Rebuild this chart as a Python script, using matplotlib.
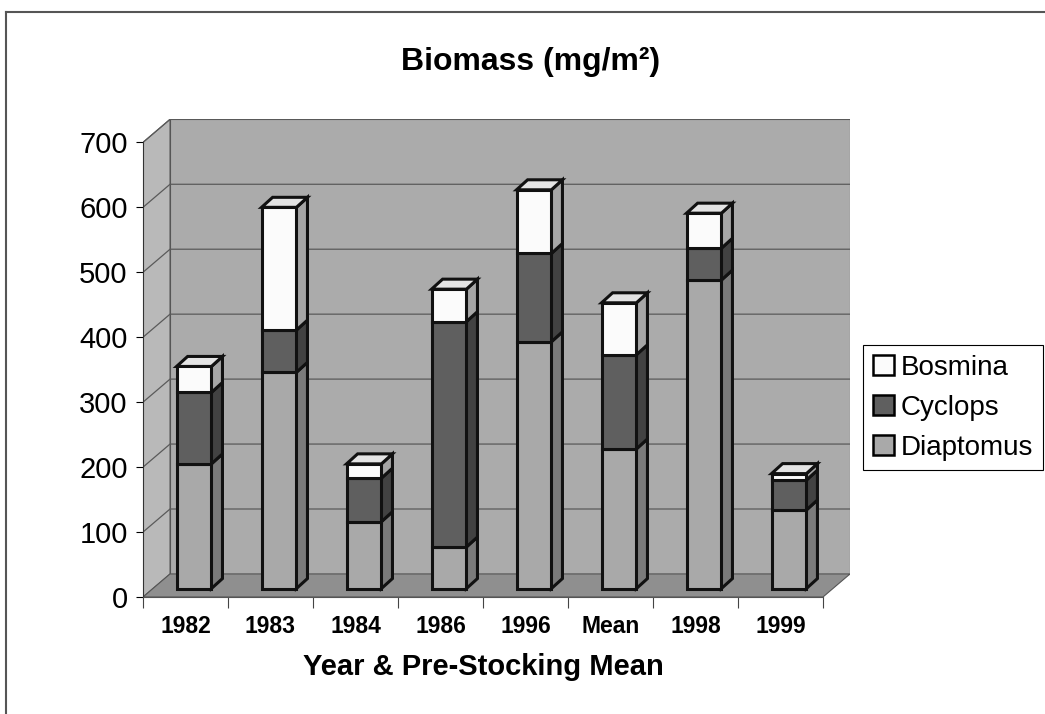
import matplotlib.pyplot as plt
from matplotlib.patches import Polygon, Patch
from matplotlib.lines import Line2D

plt.rcParams['font.family'] = ['Liberation Sans', 'DejaVu Sans']

# values (mg/m2)
years = ['1982', '1983', '1984', '1986', '1996', 'Mean', '1998', '1999']
diaptomus = [192, 333, 103, 64, 380, 215, 475, 121]
cyclops = [110, 65, 67, 347, 136, 145, 49, 46]
bosmina = [40, 189, 22, 50, 98, 80, 54, 10]
yticks = [0, 100, 200, 300, 400, 500, 600, 700]

# name, values, front / side / top colour
series = [('Diaptomus', diaptomus, '#a9a9a9', '#7b7b7b', '#c6c6c6'),
          ('Cyclops', cyclops, '#5f5f5f', '#424242', '#7c7c7c'),
          ('Bosmina', bosmina, '#fbfbfb', '#a6a6a6', '#e4e4e4')]

# fake 3d geometry, in data units
wall_dx, wall_dy = 0.318, 35.5     # depth of the floor
bar_dx, bar_dy = 0.10, 13          # front face of bars behind front edge
deep_dx, deep_dy = 0.13, 15.4      # depth of a bar
bar_w = 0.41
n = len(years)
ytop = 700

fig = plt.figure(figsize=(10.45, 7.14), dpi=100)
ax = fig.add_axes([143 / 1045, 117 / 714, 707 / 1045, 478 / 714])
ax.set_xlim(0, n + wall_dx)
ax.set_ylim(0, ytop + wall_dy + 0.5)

# walls and floor
ax.add_patch(Polygon([(wall_dx, wall_dy), (n + wall_dx, wall_dy), (n + wall_dx, ytop + wall_dy),
                      (wall_dx, ytop + wall_dy)], closed=True, fc='#ababab', ec='#555555', lw=0.8, zorder=0))
ax.add_patch(Polygon([(0, 0), (wall_dx, wall_dy), (wall_dx, ytop + wall_dy), (0, ytop)],
                     closed=True, fc='#b9b9b9', ec='#555555', lw=0.8, zorder=0))
ax.add_patch(Polygon([(0, 0), (n, 0), (n + wall_dx, wall_dy), (wall_dx, wall_dy)],
                     closed=True, fc='#8f8f8f', ec='#555555', lw=0.8, zorder=0.5))

for v in yticks[1:]:
    ax.plot([0, wall_dx, n + wall_dx], [v, v + wall_dy, v + wall_dy], color='#5a5a5a', lw=0.9, zorder=0.2)

# stacked bars
bottoms = [0] * n
for name, vals, fc, sc, tc in series:
    xs = [i + 0.5 + bar_dx for i in range(n)]
    ax.bar(xs, vals, width=bar_w, bottom=[b + bar_dy for b in bottoms],
           color=fc, edgecolor='#111111', linewidth=2.2, zorder=3)
    for i in range(n):
        y0 = bottoms[i] + bar_dy
        y1 = y0 + vals[i]
        xr = xs[i] + bar_w / 2
        ax.add_patch(Polygon([(xr, y0), (xr + deep_dx, y0 + deep_dy), (xr + deep_dx, y1 + deep_dy), (xr, y1)],
                             closed=True, fc=sc, ec='#111111', lw=2.2, zorder=2.9))
    bottoms = [b + v for b, v in zip(bottoms, vals)]

# top faces of the topmost segment
tc = series[-1][4]
for i in range(n):
    xl = i + 0.5 + bar_dx - bar_w / 2
    xr = xl + bar_w
    y1 = bottoms[i] + bar_dy
    ax.add_patch(Polygon([(xl, y1), (xl + deep_dx, y1 + deep_dy), (xr + deep_dx, y1 + deep_dy), (xr, y1)],
                         closed=True, fc=tc, ec='#111111', lw=2.2, zorder=3.1))

# axes
for s in ['top', 'right']:
    ax.spines[s].set_visible(False)
ax.spines['left'].set_bounds(0, ytop)
ax.spines['bottom'].set_bounds(0, n)
ax.spines['left'].set_color('#333333')
ax.spines['bottom'].set_color('#555555')
ax.set_yticks(yticks)
ax.tick_params(axis='y', labelsize=21, length=5, pad=6)
ax.set_xticks(range(n + 1))
ax.set_xticklabels([])
ax.tick_params(axis='x', which='major', length=8, color='#444444')
ax.set_xticks([i + 0.5 for i in range(n)], minor=True)
ax.set_xticklabels(years, minor=True, fontsize=16.5, fontweight='bold')
ax.tick_params(axis='x', which='minor', length=0, pad=13)

fig.text(0.508, 0.913, 'Biomass (mg/m²)', ha='center', va='center',
         fontsize=23, fontweight='bold')
fig.text(0.463, 0.066, 'Year & Pre-Stocking Mean', ha='center', va='center',
         fontsize=21, fontweight='bold')

handles = [Patch(fc=s[2], ec='black', lw=1.8) for s in series[::-1]]
labels = [s[0] for s in series[::-1]]
leg = fig.legend(handles, labels, loc='upper left', bbox_to_anchor=(863 / 1045, 1 - 345 / 714),
                 fontsize=20, frameon=True, fancybox=False, edgecolor='black', framealpha=1,
                 handlelength=0.75, handleheight=0.75, handletextpad=0.25, labelspacing=0.5,
                 borderpad=0.35, borderaxespad=0)
leg.get_frame().set_linewidth(0.8)

# outer frame of the chart area
fig.add_artist(Line2D([6 / 1045, 6 / 1045], [0, 1 - 12 / 714], color='#555555', lw=1.5))
fig.add_artist(Line2D([6 / 1045, 1], [1 - 12 / 714, 1 - 12 / 714], color='#555555', lw=1.5))

fig.savefig('out.png', dpi=100)
